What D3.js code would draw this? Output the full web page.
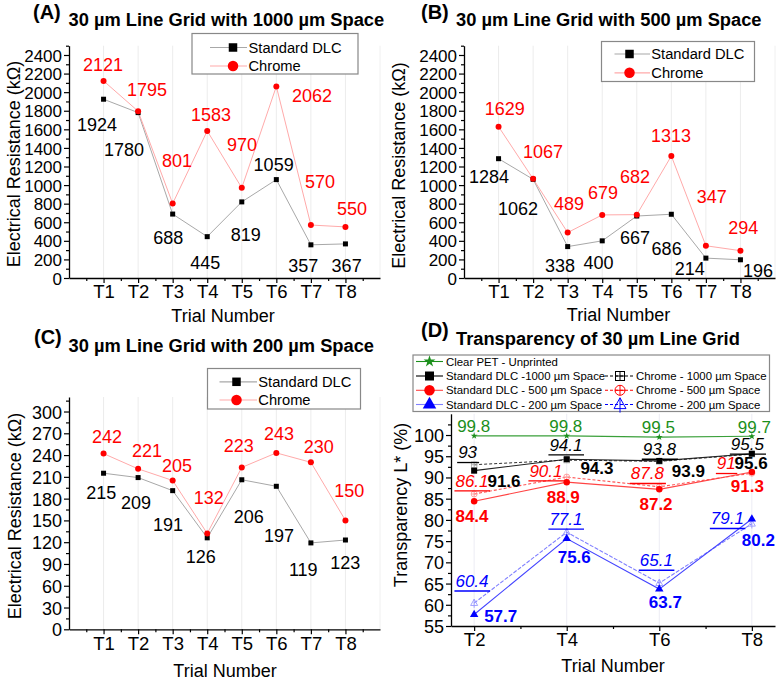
<!DOCTYPE html>
<html><head><meta charset="utf-8">
<script src="https://cdn.jsdelivr.net/npm/d3@7"></script>
<style>
body{margin:0;background:#fff}
svg{display:block}
text{font-family:"Liberation Sans",Arial,sans-serif}
</style>
</head><body>
<svg id="chart" width="777" height="679"></svg>
<script>
// ---------------- DATA ----------------
const trialNums = [1, 2, 3, 4, 5, 6, 7, 8];
const trialLabels = ["T1", "T2", "T3", "T4", "T5", "T6", "T7", "T8"];
const seriesNames = ["Standard DLC", "Chrome"];

const dlcA = [1924, 1780, 688, 445, 819, 1059, 357, 367];
const chromeA = [2121, 1795, 801, 1583, 970, 2062, 570, 550];
const dlcB = [1284, 1062, 338, 400, 667, 686, 214, 196];
const chromeB = [1629, 1067, 489, 679, 682, 1313, 347, 294];
const dlcC = [215, 209, 191, 126, 206, 197, 119, 123];
const chromeC = [242, 221, 205, 132, 223, 243, 230, 150];

const yTicksAB = [0, 200, 400, 600, 800, 1000, 1200, 1400, 1600, 1800, 2000, 2200, 2400];
const yTicksC = [0, 30, 60, 90, 120, 150, 180, 210, 240, 270, 300];

const dTrialNums = [2, 4, 6, 8];
const dTrialLabels = ["T2", "T4", "T6", "T8"];
const yTicksD = [55, 60, 65, 70, 75, 80, 85, 90, 95, 100];
const petD = [99.8, 99.8, 99.5, 99.7];
const dlc1000D = [91.6, 94.3, 93.9, 95.6];
const chrome1000D = [93, 94.1, 93.8, 95.5];
const dlc500D = [84.4, 88.9, 87.2, 91.3];
const chrome500D = [86.1, 90.1, 87.8, 91];
const dlc200D = [57.7, 75.6, 63.7, 80.2];
const chrome200D = [60.4, 77.1, 65.1, 79.1];
const dLegendNames = ["Clear PET - Unprinted", "Standard DLC -1000 \u00b5m Space", "Standard DLC - 500 \u00b5m Space",
  "Standard DLC - 200 \u00b5m Space", "Chrome - 1000 \u00b5m Space", "Chrome - 500 \u00b5m Space", "Chrome - 200 \u00b5m Space"];

// ---------------- LAYOUT (label offsets in px, from the point) ----------------
const offDlcA = [[-6.6,31.5],[-14.1,43.4],[-4.4,29.9],[-1.9,32.3],[4,38.8],[-2.7,-8.9],[-7.6,26.9],[1.2,27.8]];
const offChrA = [[-0.6,-9.9],[8.9,-15.2],[4.3,-36.6],[3.8,-9.9],[0.2,-36.9],[35.6,15.6],[9.1,-37],[6.5,-11.9]];
const offDlcB = [[-9.6,24.6],[-15.1,35.7],[-7.7,25.1],[-3.7,28.5],[-1.8,28.3],[-4.7,40.7],[-16.2,16.9],[17.5,16.9]];
const offChrB = [[6.1,-11.6],[9.9,-20.6],[1.3,-22.6],[0.8,-15.6],[-1.8,-31.9],[-0.4,-14.3],[5.9,-43.1],[2.8,-16.7]];
const offDlcC = [[-2.3,25.9],[-2.1,31.6],[-4.7,40.2],[-6.4,24.8],[6.9,42.8],[2.6,55.3],[-7.6,33],[-0.2,29.2]];
const offChrC = [[3.4,-10.5],[8.9,-12.3],[4.3,-8.9],[1.5,-29.6],[-3,-15.9],[2.6,-13],[7.9,-9.8],[3.8,-23.2]];

const offPetD = [[-17,-4],[-17.5,-4],[-17.5,-4],[-14,-3.6]];
const offDlc1000D = [[13.3,16],[13.7,14.8],[12.5,15.8],[-17.3,15.6]];
const offChr1000D = [[-16,-6.4],[-17.3,-9.4],[-16.5,-6.3],[-21,-4.1]];
const offDlc500D = [[-18.7,20.5],[-20,20.4],[-19.8,20.7],[-21,19.7]];
const offChr500D = [[-18.7,-7.3],[-37.3,-0.3],[-28.5,-7.5],[-35,-3.9]];
const offDlc200D = [[10,7.2],[-9,24.1],[-10.5,19.2],[-10,27.2]];
const offChr200D = [[-18.7,-16.3],[-17.3,-7.2],[-19.5,-17.1],[-41,0.6]];

const svg = d3.select("#chart");
const RED = "#ff0000", BLUE = "#0000ff", GREEN = "#1b8f1b";

// ---------------- MARKERS ----------------
function marker(g, type, x, y, s, color, stroke) {
  if (type === "square") {
    g.append("rect").attr("x", x - s/2).attr("y", y - s/2).attr("width", s).attr("height", s).attr("fill", color);
  } else if (type === "circle") {
    g.append("circle").attr("cx", x).attr("cy", y).attr("r", s/2).attr("fill", color);
  } else if (type === "triangle") {
    g.append("path").attr("d", d3.symbol(d3.symbolTriangle, s*s*0.55)()).attr("transform", `translate(${x},${y})`).attr("fill", color);
  } else if (type === "star") {
    g.append("path").attr("d", d3.symbol(d3.symbolStar, s*s*0.3)()).attr("transform", `translate(${x},${y})`).attr("fill", color);
  } else if (type === "sqcross") {
    g.append("rect").attr("x", x - s/2).attr("y", y - s/2).attr("width", s).attr("height", s).attr("fill", "none").attr("stroke", color).attr("stroke-width", stroke||1);
    g.append("path").attr("d", `M${x-s/2},${y}H${x+s/2}M${x},${y-s/2}V${y+s/2}`).attr("stroke", color).attr("stroke-width", stroke||1);
  } else if (type === "circcross") {
    g.append("circle").attr("cx", x).attr("cy", y).attr("r", s/2).attr("fill", "none").attr("stroke", color).attr("stroke-width", stroke||1);
    g.append("path").attr("d", `M${x-s/2},${y}H${x+s/2}M${x},${y-s/2}V${y+s/2}`).attr("stroke", color).attr("stroke-width", stroke||1);
  } else if (type === "tricross") {
    const h = s*0.9;
    g.append("path").attr("d", `M${x},${y-h*0.62}L${x+s/2},${y+h*0.38}L${x-s/2},${y+h*0.38}Z`).attr("fill", "none").attr("stroke", color).attr("stroke-width", stroke||1);
    g.append("path").attr("d", `M${x},${y-h*0.62}V${y+h*0.75}`).attr("stroke", color).attr("stroke-width", stroke||1);
  }
}

function styleAxis(g, fs) {
  g.selectAll("path.domain").attr("stroke", "#000").attr("stroke-width", 1.3);
  g.selectAll(".tick line").attr("stroke", "#000").attr("stroke-width", 1.2);
  g.selectAll(".tick text").attr("fill", "#000").style("font-size", fs + "px").style("font-family", '"Liberation Sans",Arial,sans-serif');
}

function drawAxes(g, x, y, o) {
  // minor y
  const ym = g.append("g").attr("transform", `translate(${o.left},0)`)
    .call(d3.axisLeft(y).tickValues(o.yMinor).tickSize(3).tickFormat(""));
  ym.select(".domain").remove(); styleAxis(ym, 10);
  const ya = g.append("g").attr("transform", `translate(${o.left},0)`)
    .call(d3.axisLeft(y).tickValues(o.yTicks).tickSize(5).tickSizeOuter(0).tickPadding(2).tickFormat(d3.format("d")));
  styleAxis(ya, o.yFont);
  ya.selectAll(".tick text").attr("dy", "0.36em");
  const xm = g.append("g").attr("transform", `translate(0,${o.bottom})`)
    .call(d3.axisBottom(x).tickValues(o.xMinor).tickSize(3).tickFormat(""));
  xm.select(".domain").remove(); styleAxis(xm, 10);
  const xa = g.append("g").attr("transform", `translate(0,${o.bottom})`)
    .call(d3.axisBottom(x).tickValues(o.xTicks).tickSize(5).tickSizeOuter(0).tickFormat((d, i) => o.xLabels[i]));
  styleAxis(xa, o.xFont);
  xa.selectAll(".tick text").attr("dy", null).attr("y", o.xLabelY);
}

function titleBlock(g, letter, lx, lb, title, tx, tb) {
  g.append("text").attr("x", lx).attr("y", lb).text(letter).style("font-weight", "bold").style("font-size", "20px");
  g.append("text").attr("x", tx).attr("y", tb).text(title).style("font-weight", "bold").style("font-size", "18.3px");
}

function axisTitles(g, yt, ytx, ytc, xt, xtc, xtb) {
  g.append("text").attr("transform", `translate(${ytx},${ytc}) rotate(-90)`).attr("text-anchor", "middle")
    .style("font-size", "18px").text(yt);
  g.append("text").attr("x", xtc).attr("y", xtb).attr("text-anchor", "middle").style("font-size", "18px").text(xt);
}

// ---------------- RESISTANCE PANELS ----------------
function resistancePanel(o) {
  const g = svg.append("g");
  const x = d3.scaleLinear().domain([0, 9]).range([o.left, o.right]);
  const y = d3.scaleLinear().domain([0, o.yMax]).range([o.bottom, o.top]);
  // grid
  g.append("g").selectAll("line").data(trialNums).join("line")
    .attr("x1", d => x(d)).attr("x2", d => x(d)).attr("y1", o.bottom).attr("y2", o.top)
    .attr("stroke", "#ececec").attr("stroke-width", 1);
  g.append("line").attr("x1", o.right).attr("x2", o.right).attr("y1", o.bottom).attr("y2", o.top).attr("stroke", "#f0f0f0");
  const line = d3.line().x((d, i) => x(trialNums[i])).y(d => y(d));
  g.append("path").datum(o.dlc).attr("d", line).attr("fill", "none").attr("stroke", "#a8a8a8").attr("stroke-width", 1);
  g.append("path").datum(o.chrome).attr("d", line).attr("fill", "none").attr("stroke", "#ffaaaa").attr("stroke-width", 1);
  o.dlc.forEach((v, i) => marker(g, "square", x(trialNums[i]), y(v), 5, "#000"));
  o.chrome.forEach((v, i) => marker(g, "circle", x(trialNums[i]), y(v), 6, RED));
  // labels
  o.dlc.forEach((v, i) => g.append("text").attr("x", x(trialNums[i]) + o.offDlc[i][0]).attr("y", y(v) + o.offDlc[i][1])
    .attr("text-anchor", "middle").style("font-size", "18px").attr("fill", "#000").text(v));
  o.chrome.forEach((v, i) => g.append("text").attr("x", x(trialNums[i]) + o.offChr[i][0]).attr("y", y(v) + o.offChr[i][1])
    .attr("text-anchor", "middle").style("font-size", "18px").attr("fill", RED).text(v));
  drawAxes(g, x, y, {
    left: o.left, bottom: o.bottom, yTicks: o.yTicks, yMinor: o.yMinor, yFont: o.yFont,
    xTicks: trialNums, xMinor: d3.range(0.5, 9, 1), xLabels: trialLabels, xFont: 18.5, xLabelY: o.xLabelY
  });
  titleBlock(g, o.letter, o.letterX, o.letterB, o.title, o.titleX, o.titleB);
  axisTitles(g, "Electrical Resistance (k\u03a9)", o.ytX, o.ytC, "Trial Number", o.xtC, o.xtB);
  // legend
  const L = o.legend;
  g.append("rect").attr("x", L.x).attr("y", L.y).attr("width", L.w).attr("height", L.h)
    .attr("fill", "#fff").attr("stroke", "#888").attr("stroke-width", 1.2);
  const rows = [{c: "#a8a8a8", m: "square", mc: "#000", s: 8.5}, {c: "#ffaaaa", m: "circle", mc: RED, s: 10.5}];
  rows.forEach((r, i) => {
    const yy = L.rowY[i];
    g.append("line").attr("x1", L.l1).attr("x2", L.l2).attr("y1", yy).attr("y2", yy).attr("stroke", r.c).attr("stroke-width", 1.2);
    marker(g, r.m, L.mx, yy, r.s, r.mc);
    g.append("text").attr("x", L.tx).attr("y", yy + 5.3).style("font-size", "14.7px").text(seriesNames[i]);
  });
}

resistancePanel({
  left: 69, right: 380, bottom: 278, top: 45.7, yMax: 2500, yTicks: yTicksAB, yMinor: d3.range(100, 2600, 200), yFont: 17,
  dlc: dlcA, chrome: chromeA, offDlc: offDlcA, offChr: offChrA, xLabelY: 19.5,
  letter: "(A)", letterX: 33, letterB: 18.5, title: "30 \u00b5m Line Grid with 1000 \u00b5m Space", titleX: 68.5, titleB: 26,
  ytX: 20, ytC: 164, xtC: 223, xtB: 322,
  legend: {x: 192, y: 33.5, w: 166, h: 40.5, l1: 210, l2: 247, mx: 233, tx: 248.5, rowY: [47.5, 66]}
});
resistancePanel({
  left: 464, right: 775, bottom: 278, top: 45.7, yMax: 2500, yTicks: yTicksAB, yMinor: d3.range(100, 2600, 200), yFont: 17,
  dlc: dlcB, chrome: chromeB, offDlc: offDlcB, offChr: offChrB, xLabelY: 19.5,
  letter: "(B)", letterX: 421, letterB: 18.5, title: "30 \u00b5m Line Grid with 500 \u00b5m Space", titleX: 456, titleB: 26,
  ytX: 405, ytC: 165.5, xtC: 618.5, xtB: 321,
  legend: {x: 601.5, y: 41.5, w: 153, h: 40, l1: 614.5, l2: 650, mx: 629.5, tx: 651.3, rowY: [54, 72.8]}
});
resistancePanel({
  left: 69, right: 380, bottom: 629.3, top: 397, yMax: 320, yTicks: yTicksC, yMinor: d3.range(15, 330, 30), yFont: 18,
  dlc: dlcC, chrome: chromeC, offDlc: offDlcC, offChr: offChrC, xLabelY: 21,
  letter: "(C)", letterX: 34, letterB: 344, title: "30 \u00b5m Line Grid with 200 \u00b5m Space", titleX: 68.5, titleB: 351.5,
  ytX: 20.5, ytC: 516, xtC: 225, xtB: 676.5,
  legend: {x: 207.5, y: 368.5, w: 153, h: 40.5, l1: 219.5, l2: 257, mx: 236.5, tx: 258.3, rowY: [381.8, 400]}
});

// ---------------- TRANSPARENCY PANEL (D) ----------------
(function () {
  const g = svg.append("g");
  const left = 451, right = 775, bottom = 626, top = 413.8;
  const x = d3.scaleLinear().domain([1.5, 8.5]).range([left, right]);
  const y = d3.scaleLinear().domain([55, 105]).range([bottom, top]);
  g.append("g").selectAll("line").data(dTrialNums).join("line")
    .attr("x1", d => x(d)).attr("x2", d => x(d)).attr("y1", bottom).attr("y2", top)
    .attr("stroke", "#ececf4").attr("stroke-width", 1);
  const line = d3.line().x((d, i) => x(dTrialNums[i])).y(d => y(d));
  const series = [
    {v: petD, c: GREEN, lc: "#3aa03a", dash: null, m: "star", ms: 7, mc: GREEN, off: offPetD, st: "plain"},
    {v: chrome1000D, c: "#000", lc: "#333", dash: "3,2", m: "sqcross", ms: 5.5, mc: "#aaa", off: offChr1000D, st: "italic"},
    {v: dlc1000D, c: "#000", lc: "#222", dash: null, m: "square", ms: 6, mc: "#000", off: offDlc1000D, st: "bold"},
    {v: chrome500D, c: RED, lc: "#ff5555", dash: "3,2", m: "circcross", ms: 6, mc: "#ff9999", off: offChr500D, st: "italic"},
    {v: dlc500D, c: RED, lc: "#ff4444", dash: null, m: "circle", ms: 6.5, mc: RED, off: offDlc500D, st: "bold"},
    {v: chrome200D, c: BLUE, lc: "#8080ff", dash: "4,1.5", m: "tricross", ms: 7, mc: "#9999ff", off: offChr200D, st: "italic"},
    {v: dlc200D, c: BLUE, lc: "#4444ff", dash: null, m: "triangle", ms: 7.5, mc: BLUE, off: offDlc200D, st: "bold"}
  ];
  series.forEach(s => {
    g.append("path").datum(s.v).attr("d", line).attr("fill", "none").attr("stroke", s.lc)
      .attr("stroke-width", 1.1).attr("stroke-dasharray", s.dash);
  });
  series.forEach(s => s.v.forEach((v, i) => marker(g, s.m, x(dTrialNums[i]), y(v), s.ms, s.mc, 0.9)));
  series.forEach(s => s.v.forEach((v, i) => {
    const t = g.append("text").attr("x", x(dTrialNums[i]) + s.off[i][0]).attr("y", y(v) + s.off[i][1])
      .style("font-size", "17px").attr("fill", s.c).text(v);
    if (s.st === "bold") t.style("font-weight", "bold");
    if (s.st === "italic") {
      t.style("font-style", "italic");
      const b = t.node().getBBox();
      const uy = y(v) + s.off[i][1] + 4.2;
      g.append("line").attr("x1", b.x - 1).attr("x2", b.x + b.width + 1.5).attr("y1", uy).attr("y2", uy)
        .attr("stroke", s.c).attr("stroke-width", 1.3);
    }
  }));
  drawAxes(g, x, y, {
    left, bottom, yTicks: yTicksD, yMinor: d3.range(57.5, 105, 5), yFont: 18,
    xTicks: dTrialNums, xMinor: [3, 5, 7], xLabels: dTrialLabels, xFont: 18.5, xLabelY: 19.5
  });
  titleBlock(g, "(D)", 421, 337, "Transparency of 30 \u00b5m Line Grid", 456, 345);
  axisTitles(g, "Transparency L* (%)", 407, 505, "Trial Number", 613, 671.5);
  // legend
  g.append("rect").attr("x", 413).attr("y", 355).attr("width", 356.5).attr("height", 56.5)
    .attr("fill", "#fff").attr("stroke", "#888").attr("stroke-width", 1.2);
  const items = [
    {n: 0, col: 0, row: 0, lc: GREEN, dash: null, m: "star", ms: 12, mc: GREEN},
    {n: 1, col: 0, row: 1, lc: "#000", dash: null, m: "square", ms: 9, mc: "#000"},
    {n: 2, col: 0, row: 2, lc: "#ff4444", dash: null, m: "circle", ms: 10.5, mc: RED},
    {n: 3, col: 0, row: 3, lc: "#8080ff", dash: null, m: "triangle", ms: 12, mc: BLUE},
    {n: 4, col: 1, row: 1, lc: "#000", dash: "3,2", m: "sqcross", ms: 9, mc: "#000"},
    {n: 5, col: 1, row: 2, lc: RED, dash: "3,2", m: "circcross", ms: 10, mc: RED},
    {n: 6, col: 1, row: 3, lc: BLUE, dash: "3,2", m: "tricross", ms: 12, mc: BLUE}
  ];
  const rowBase = [365.5, 380, 394.3, 408.5];
  const colGeom = [{l1: 416, l2: 443, mx: 429.5, tx: 446}, {l1: 605, l2: 635, mx: 620, tx: 636}];
  items.forEach(it => {
    const cg = colGeom[it.col], yy = rowBase[it.row] - 4;
    g.append("line").attr("x1", cg.l1).attr("x2", cg.l2).attr("y1", yy).attr("y2", yy)
      .attr("stroke", it.lc).attr("stroke-width", 1.1).attr("stroke-dasharray", it.dash);
    marker(g, it.m, cg.mx, yy, it.ms, it.mc, 1);
    g.append("text").attr("x", cg.tx).attr("y", rowBase[it.row]).style("font-size", "11.4px").text(dLegendNames[it.n]);
  });
})();
</script>
</body></html>
